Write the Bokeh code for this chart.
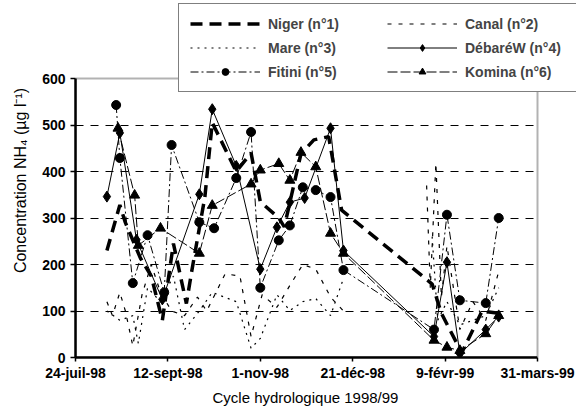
import numpy as np
import pandas as pd
from bokeh.plotting import figure
from bokeh.models import (Range1d, FixedTicker, Legend, LegendItem, ColumnDataSource,
                          CustomJSTickFormatter, BoxAnnotation, Title)
from bokeh.embed import file_html
from bokeh.resources import INLINE

nan = float("nan")

# ---- data ----
niger_dates = ["1998-08-10", "1998-08-17", "1998-08-20", "1998-08-28", "1998-09-03", "1998-09-09",
               "1998-09-15", "1998-09-22", "1998-09-25", "1998-10-02", "1998-10-06", "1998-10-19",
               "1998-10-27", "1998-11-01", "1998-11-11", "1998-11-14", "1998-11-23", "1998-11-30",
               "1998-12-08", "1998-12-15", "1999-02-02", "1999-02-07", "1999-02-18", "1999-03-01",
               "1999-03-10"]
niger_vals = [230, 328, 290, 215, 175, 80, 245, 116, 188, 345, 505, 400, 440, 335, 300, 281,
              438, 468, 475, 317, 158, 95, 10, 100, 95]

canal_dates = ["1998-08-10", "1998-08-13", "1998-08-17", "1998-08-20", "1998-08-24", "1998-08-29",
               "1998-09-03", "1998-09-08", "1998-09-14", "1998-09-21", "1998-09-28", "1998-10-03",
               "1998-10-13", "1998-10-21", "1998-10-27", "1998-11-02", "1998-11-10", "1998-11-17",
               "1998-11-24", "1998-12-01", "1998-12-09", "1998-12-16", "1999-01-15", "1999-01-30",
               "1999-02-01", "1999-02-04", "1999-02-07", "1999-02-10", "1999-02-17", "1999-02-24",
               "1999-03-03", "1999-03-10"]
canal_vals = [120, 90, 140, 100, 25, 135, 200, 140, 100, 90, 130, 100, 180, 175, 45, 135, 108,
              155, 200, 190, 130, 100, nan, 370, 150, 418, 130, 240, 60, 120, 80, 185]

mare_dates = ["1998-08-10", "1998-08-17", "1998-08-24", "1998-08-27", "1998-09-01", "1998-09-08",
              "1998-09-15", "1998-09-21", "1998-09-29", "1998-10-06", "1998-10-19", "1998-10-27",
              "1998-11-01", "1998-11-10", "1998-11-17", "1998-11-24", "1998-12-01", "1998-12-09",
              "1998-12-16", "1999-01-15", "1999-02-02", "1999-02-05", "1999-02-10", "1999-02-17",
              "1999-03-03", "1999-03-10"]
mare_vals = [100, 80, 90, 30, 150, 120, 175, 60, 100, 140, 120, 20, 41, 135, 101, 120, 127, 90,
             170, nan, 260, 80, 120, 70, 90, 150]

debare_dates = ["1998-08-10", "1998-08-17", "1998-08-26", "1998-09-09", "1998-09-29", "1998-10-06",
                "1998-10-19", "1998-11-01", "1998-11-10", "1998-11-17", "1998-11-25", "1998-12-09",
                "1998-12-16", "1999-02-03", "1999-02-10", "1999-02-17", "1999-03-03", "1999-03-10"]
debare_vals = [346, 483, 253, 125, 351, 534, 412, 190, 280, 334, 343, 493, 230, 45, 205, 8, 60, 88]

fitini_dates = ["1998-08-15", "1998-08-17", "1998-08-24", "1998-09-01", "1998-09-10", "1998-09-14",
                "1998-09-29", "1998-10-07", "1998-10-19", "1998-10-27", "1998-11-01", "1998-11-11",
                "1998-11-17", "1998-11-24", "1998-12-01", "1998-12-09", "1998-12-16", "1999-02-03",
                "1999-02-10", "1999-02-17", "1999-03-03", "1999-03-10"]
fitini_vals = [543, 429, 160, 263, 140, 457, 291, 278, 386, 485, 150, 252, 284, 366, 360, 345,
               188, 60, 307, 123, 117, 300]

komina_dates = ["1998-08-16", "1998-08-25", "1998-08-27", "1998-09-08", "1998-09-29", "1998-10-06",
                "1998-10-27", "1998-11-01", "1998-11-11", "1998-11-17", "1998-11-23", "1998-12-01",
                "1998-12-09", "1998-12-16", "1999-02-03", "1999-02-10", "1999-02-17", "1999-03-03",
                "1999-03-10"]
komina_vals = [493, 349, 241, 278, 224, 327, 373, 403, 417, 381, 441, 410, 267, 224, 37, 22, 15,
               51, 90]

tick_dates = ["1998-07-24", "1998-09-12", "1998-11-01", "1998-12-21", "1999-02-09", "1999-03-31"]
tick_labels = ["24-juil-98", "12-sept-98", "1-nov-98", "21-déc-98", "9-févr-99", "31-mars-99"]
y_ticks = [0, 100, 200, 300, 400, 500, 600]
y_max = 600

FONT = "Liberation Sans"

# layout (pixels)
W, H = 576, 416
L, B = 75, 59            # left / bottom borders
AX_RIGHT = 537           # pixel where the date axis ends (31-mars-99)
AX_TOP = 78              # pixel where the value axis ends (600)
TOP = 3                  # top of the drawing frame (legend top)


def ms(d):
    return float(pd.Timestamp(d).value // 10**6)


def src(dates, vals):
    return ColumnDataSource(dict(x=pd.to_datetime(dates), y=vals))


x0, x1 = ms(tick_dates[0]), ms(tick_dates[-1])
x_end = x0 + (x1 - x0) * (W - L) / (AX_RIGHT - L)
frame_h = (H - B) - TOP
y_end = y_max * frame_h / ((H - B) - AX_TOP)

p = figure(width=W, height=H, x_axis_type="datetime", output_backend="svg",
           toolbar_location=None,
           x_range=Range1d(x0, x_end), y_range=Range1d(0, y_end),
           min_border_left=L, min_border_right=0, min_border_top=TOP, min_border_bottom=B)
p.background_fill_color = "white"
p.border_fill_color = "white"
p.outline_line_color = None

# axes
tick_ms = [ms(d) for d in tick_dates]
p.xaxis.ticker = FixedTicker(ticks=tick_ms)
p.xaxis.formatter = CustomJSTickFormatter(args=dict(tms=tick_ms, tlabs=tick_labels), code="""
let best = -1, bd = Infinity;
for (let i = 0; i < tms.length; i++) { const d = Math.abs(tms[i] - tick); if (d < bd) { bd = d; best = i; } }
return (best >= 0 && bd < 86400000) ? tlabs[best] : "";
""")
p.xaxis.bounds = (x0, x1)
p.yaxis.ticker = FixedTicker(ticks=y_ticks)
p.yaxis.bounds = (0, y_max)
for ax in (p.xaxis, p.yaxis):
    ax.axis_line_width = 2.5
    ax.axis_line_color = "black"
    ax.major_tick_line_color = "black"
    ax.major_tick_line_width = 1.5
    ax.minor_tick_line_color = None
    ax.major_tick_in = 0
    ax.major_label_text_font = FONT
    ax.major_label_text_font_style = "bold"
    ax.major_label_text_font_size = "14px"
    ax.major_label_text_color = "black"
    ax.axis_label_text_font = FONT
    ax.axis_label_text_font_style = "normal"
    ax.axis_label_text_color = "black"
p.xaxis.major_tick_out = 4
p.xaxis.major_label_standoff = 3
p.yaxis.major_tick_out = 5
p.yaxis.major_label_standoff = 5
p.yaxis.axis_label = "Concentration NH₄ (µg l⁻¹)"
p.yaxis.axis_label_text_font_size = "16px"
p.yaxis.axis_label_standoff = 10

# x-axis title, centred under the date axis (not under the wider drawing frame)
xtitle = Title(text="Cycle hydrologique 1998/99", align="left", offset=137,
               text_font=FONT, text_font_size="15px", text_font_style="normal",
               text_color="black", standoff=6)
p.add_layout(xtitle, "below")

p.xgrid.grid_line_color = None
p.ygrid.grid_line_color = "black"
p.ygrid.grid_line_dash = "8 7"
p.ygrid.grid_line_width = 1.2
p.ygrid.ticker = FixedTicker(ticks=[100, 200, 300, 400, 500])

# series
s_niger = src(niger_dates, niger_vals)
s_canal = src(canal_dates, canal_vals)
s_mare = src(mare_dates, mare_vals)
s_debare = src(debare_dates, debare_vals)
s_fitini = src(fitini_dates, fitini_vals)
s_komina = src(komina_dates, komina_vals)

r_canal = p.line("x", "y", source=s_canal, line_color="black", line_width=1.2, line_dash="4 7")
r_mare = p.line("x", "y", source=s_mare, line_color="black", line_width=1.2, line_dash="2 5")
r_komina_l = p.line("x", "y", source=s_komina, line_color="black", line_width=1, line_dash="10 3")
r_komina_m = p.scatter("x", "y", source=s_komina, marker="triangle", size=10, color="black")
r_fitini_l = p.line("x", "y", source=s_fitini, line_color="black", line_width=1, line_dash="8 3 2 3")
r_fitini_m = p.scatter("x", "y", source=s_fitini, marker="circle", size=9, color="black")
r_debare_l = p.line("x", "y", source=s_debare, line_color="black", line_width=1)
r_debare_m = p.scatter("x", "y", source=s_debare, marker="diamond", size=11, color="black")
r_niger = p.line("x", "y", source=s_niger, line_color="black", line_width=3.5, line_dash="12 7")

# white mask right of the date axis, and the plot-area frame
p.add_layout(BoxAnnotation(left=x1, fill_color="white", fill_alpha=1, line_color=None))
p.add_layout(BoxAnnotation(right=x1, bottom=0, top=y_max, fill_alpha=0,
                           line_color="black", line_width=2))

legend = Legend(items=[
    LegendItem(label="Niger (n°1)", renderers=[r_niger]),
    LegendItem(label="Canal (n°2)", renderers=[r_canal]),
    LegendItem(label="Mare (n°3)", renderers=[r_mare]),
    LegendItem(label="DébaréW (n°4)", renderers=[r_debare_l, r_debare_m]),
    LegendItem(label="Fitini (n°5)", renderers=[r_fitini_l, r_fitini_m]),
    LegendItem(label="Komina (n°6)", renderers=[r_komina_l, r_komina_m]),
], location=(103, 265), orientation="horizontal", ncols=2)
legend.border_line_color = "black"
legend.border_line_width = 1.5
legend.background_fill_color = "white"
legend.background_fill_alpha = 1
legend.label_text_font = FONT
legend.label_text_font_style = "bold"
legend.label_text_font_size = "14px"
legend.glyph_width = 70
legend.glyph_height = 17
legend.label_standoff = 8
legend.label_width = 112
legend.spacing = 7
legend.padding = 11
legend.margin = 0
p.add_layout(legend)

open("out.html", "w").write(file_html(p, INLINE))
